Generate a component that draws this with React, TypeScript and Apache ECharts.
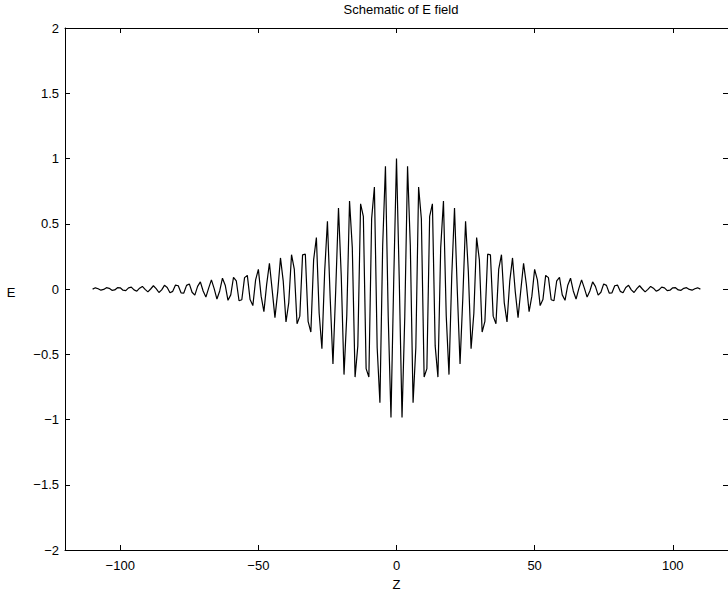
import React, { useEffect, useRef } from "react";
import * as echarts from "echarts";

// Sample positions along z
const Z: number[] = [
  -110, -109, -108, -107, -106, -105, -104, -103, -102, -101,
  -100, -99, -98, -97, -96, -95, -94, -93, -92, -91,
  -90, -89, -88, -87, -86, -85, -84, -83, -82, -81,
  -80, -79, -78, -77, -76, -75, -74, -73, -72, -71,
  -70, -69, -68, -67, -66, -65, -64, -63, -62, -61,
  -60, -59, -58, -57, -56, -55, -54, -53, -52, -51,
  -50, -49, -48, -47, -46, -45, -44, -43, -42, -41,
  -40, -39, -38, -37, -36, -35, -34, -33, -32, -31,
  -30, -29, -28, -27, -26, -25, -24, -23, -22, -21,
  -20, -19, -18, -17, -16, -15, -14, -13, -12, -11,
  -10, -9, -8, -7, -6, -5, -4, -3, -2, -1,
  0,
  1, 2, 3, 4, 5, 6, 7, 8, 9, 10,
  11, 12, 13, 14, 15, 16, 17, 18, 19, 20,
  21, 22, 23, 24, 25, 26, 27, 28, 29, 30,
  31, 32, 33, 34, 35, 36, 37, 38, 39, 40,
  41, 42, 43, 44, 45, 46, 47, 48, 49, 50,
  51, 52, 53, 54, 55, 56, 57, 58, 59, 60,
  61, 62, 63, 64, 65, 66, 67, 68, 69, 70,
  71, 72, 73, 74, 75, 76, 77, 78, 79, 80,
  81, 82, 83, 84, 85, 86, 87, 88, 89, 90,
  91, 92, 93, 94, 95, 96, 97, 98, 99, 100,
  101, 102, 103, 104, 105, 106, 107, 108, 109, 110,
];

// E field values, one per Z sample
const E: number[] = [
  -0.001, 0.009, 0.002, -0.009, -0.003, 0.010, 0.005, -0.010, -0.007, 0.010,
  0.009, -0.009, -0.012, 0.009, 0.014, -0.007, -0.017, 0.006, 0.020, -0.003,
  -0.022, 0.000, 0.025, 0.003, -0.027, -0.007, 0.028, 0.012, -0.029, -0.018,
  0.030, 0.025, -0.029, -0.031, 0.028, 0.039, -0.025, -0.047, 0.020, 0.055,
  -0.015, -0.062, 0.007, 0.070, 0.003, -0.077, -0.015, 0.083, 0.029, -0.087,
  -0.045, 0.090, 0.063, -0.090, -0.082, 0.087, 0.104, -0.081, -0.127, 0.070,
  0.150, -0.055, -0.174, 0.035, 0.197, -0.009, -0.219, -0.022, 0.238, 0.060,
  -0.253, -0.104, 0.263, 0.153, -0.267, -0.208, 0.262, 0.267, -0.248, -0.330,
  0.223, 0.394, -0.186, -0.458, 0.135, 0.519, -0.071, -0.575, -0.008, 0.621,
  0.100, -0.656, -0.204, 0.675, 0.317, -0.675, -0.436, 0.653, 0.557, -0.610,
  -0.674, 0.539, 0.781, -0.448, -0.872, 0.336, 0.941, -0.208, -0.985, 0.071,
  1.000,
  0.071, -0.985, -0.208, 0.941, 0.336, -0.872, -0.448, 0.781, 0.539, -0.674,
  -0.610, 0.557, 0.653, -0.436, -0.675, 0.317, 0.675, -0.204, -0.656, 0.100,
  0.621, -0.008, -0.575, -0.071, 0.519, 0.135, -0.458, -0.186, 0.394, 0.223,
  -0.330, -0.248, 0.267, 0.262, -0.208, -0.267, 0.153, 0.263, -0.104, -0.253,
  0.060, 0.238, -0.022, -0.219, -0.009, 0.197, 0.035, -0.174, -0.055, 0.150,
  0.070, -0.127, -0.081, 0.104, 0.087, -0.082, -0.090, 0.063, 0.090, -0.045,
  -0.087, 0.029, 0.083, -0.015, -0.077, 0.003, 0.070, 0.007, -0.062, -0.015,
  0.055, 0.020, -0.047, -0.025, 0.039, 0.028, -0.031, -0.029, 0.025, 0.030,
  -0.018, -0.029, 0.012, 0.028, -0.007, -0.027, 0.003, 0.025, 0.000, -0.022,
  -0.003, 0.020, 0.006, -0.017, -0.007, 0.014, 0.009, -0.012, -0.009, 0.009,
  0.010, -0.007, -0.010, 0.005, 0.010, -0.003, -0.009, 0.002, 0.009, -0.001,
];

const X_TICKS: number[] = [-100, -50, 0, 50, 100];
const X_MIN = -120;
const X_MAX = 120;
const Y_MIN = -2;
const Y_MAX = 2;
const Y_STEP = 0.5;

const TITLE = "Schematic of E field";
const X_NAME = "Z";
const Y_NAME = "E";

const FONT = "'Liberation Sans', Arial, Helvetica, sans-serif";
const FS = 13;
const minus = (v: number) => String(v).replace("-", "\u2212");

export default function App() {
  const ref = useRef<HTMLDivElement>(null);

  useEffect(() => {
    if (!ref.current) return;
    const chart = echarts.init(ref.current, undefined, { renderer: "svg" });
    const axisLine = { show: true, onZero: false, lineStyle: { color: "#000", width: 1 } };
    const tick = { show: true, inside: true, length: 5, lineStyle: { color: "#000", width: 1 } };
    const labelStyle = { color: "#000", fontSize: FS, fontFamily: FONT };

    chart.setOption({
      animation: false,
      backgroundColor: "#fff",
      grid: { left: 65, top: 28, width: 672, height: 529, containLabel: false },
      xAxis: [
        {
          type: "value",
          position: "bottom",
          min: X_MIN,
          max: X_MAX,
          axisLine,
          axisTick: { ...tick, customValues: X_TICKS },
          axisLabel: { ...labelStyle, margin: 9, customValues: X_TICKS, formatter: minus },
          splitLine: { show: false },
          name: X_NAME,
          nameLocation: "middle",
          nameGap: 28,
          nameTextStyle: { ...labelStyle },
        },
        {
          type: "value",
          position: "top",
          min: X_MIN,
          max: X_MAX,
          axisLine,
          axisTick: { ...tick, customValues: X_TICKS },
          axisLabel: { show: false, customValues: X_TICKS },
          splitLine: { show: false },
        },
      ],
      yAxis: [
        {
          type: "value",
          position: "left",
          min: Y_MIN,
          max: Y_MAX,
          interval: Y_STEP,
          axisLine,
          axisTick: tick,
          axisLabel: { ...labelStyle, margin: 6, formatter: minus },
          splitLine: { show: false },
        },
        {
          type: "value",
          position: "right",
          min: Y_MIN,
          max: Y_MAX,
          interval: Y_STEP,
          axisLine,
          axisTick: tick,
          axisLabel: { show: false },
          splitLine: { show: false },
        },
      ],
      graphic: [
        {
          type: "text",
          x: 401,
          y: 9,
          style: {
            text: TITLE,
            fill: "#000",
            fontSize: FS,
            fontFamily: FONT,
            textAlign: "center",
            textVerticalAlign: "middle",
          },
        },
        {
          type: "text",
          x: 11,
          y: 292,
          style: {
            text: Y_NAME,
            fill: "#000",
            fontSize: FS,
            fontFamily: FONT,
            textAlign: "center",
            textVerticalAlign: "middle",
          },
        },
      ],
      series: [
        {
          type: "line",
          xAxisIndex: 0,
          yAxisIndex: 0,
          data: Z.map((z, i) => [z, E[i]]),
          showSymbol: false,
          symbol: "none",
          lineStyle: { color: "#000", width: 1.2 },
          clip: true,
        },
      ],
    });
    return () => chart.dispose();
  }, []);

  return (
    <div
      ref={ref}
      style={{ position: "absolute", left: 0, top: 0, width: 728, height: 596 }}
    />
  );
}
